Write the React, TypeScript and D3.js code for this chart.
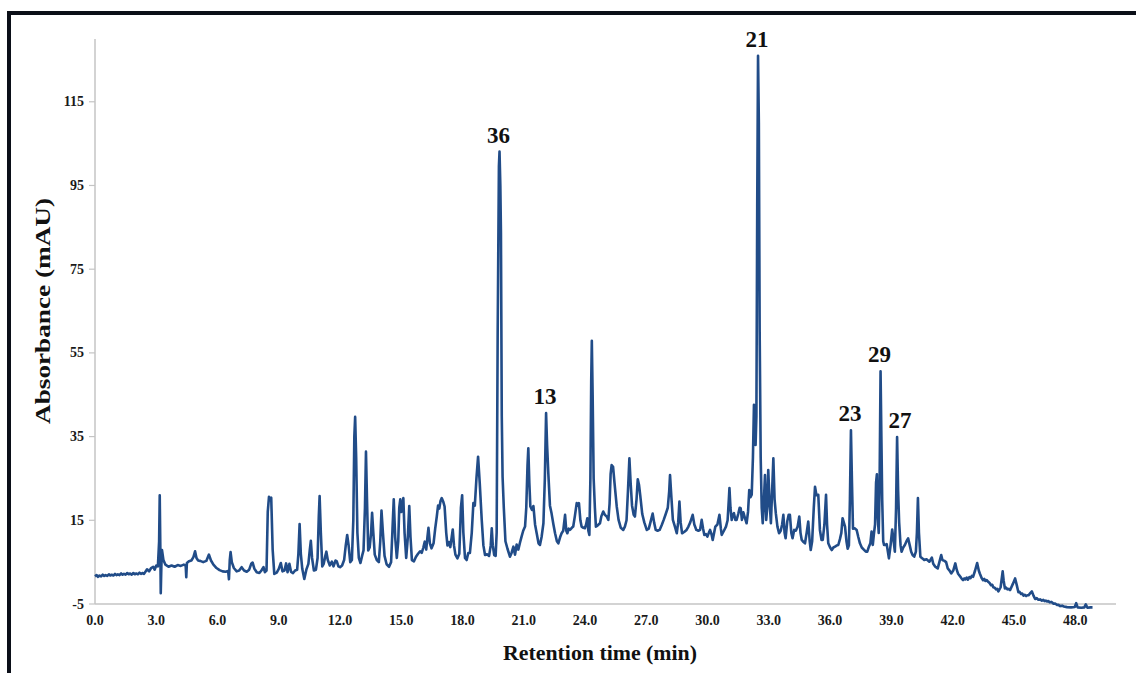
import * as d3 from "d3";
import React, { useRef, useEffect } from "react";

// chromatogram trace: [retention time (min), absorbance (mAU)]
const trace: [number, number][] = [
  [0.0, 1.6], [0.08, 1.9], [0.15, 1.5], [0.22, 1.8], [0.3, 1.6], [0.38, 2.0], [0.45, 1.7],
  [0.52, 1.9], [0.6, 1.7], [0.68, 2.1], [0.75, 1.8], [0.82, 2.0], [0.9, 1.8], [0.98, 2.2],
  [1.05, 1.9], [1.12, 2.1], [1.2, 1.9], [1.28, 2.3], [1.35, 2.0], [1.42, 2.2], [1.5, 2.0],
  [1.58, 2.4], [1.65, 2.1], [1.72, 2.3], [1.8, 2.0], [1.88, 2.4], [1.95, 2.1], [2.02, 2.3],
  [2.1, 2.1], [2.18, 2.5], [2.25, 2.2], [2.32, 2.4], [2.4, 2.2], [2.55, 3.3], [2.65, 2.8],
  [2.75, 3.6], [2.85, 3.9], [2.92, 3.2], [3.0, 4.2], [3.08, 4.0], [3.14, 10], [3.17, 21.0],
  [3.2, 8], [3.22, -2.4], [3.25, 4], [3.28, 7.9], [3.35, 5.5], [3.45, 4.4], [3.6, 3.9],
  [3.75, 4.2], [3.9, 3.9], [4.05, 4.3], [4.2, 4.1], [4.35, 4.4], [4.44, 4.2], [4.47, 1.4],
  [4.5, 4.8], [4.6, 5.2], [4.72, 5.4], [4.82, 6.2], [4.9, 7.6], [4.97, 6.0], [5.05, 5.4],
  [5.15, 5.3], [5.3, 5.0], [5.45, 5.3], [5.58, 6.8], [5.68, 5.4], [5.8, 4.4], [5.95, 3.6],
  [6.1, 3.1], [6.25, 2.8], [6.4, 2.7], [6.52, 2.9], [6.56, 0.9], [6.6, 5.5], [6.64, 7.4],
  [6.7, 5.0], [6.8, 3.6], [6.94, 2.8], [7.06, 3.0], [7.18, 3.8], [7.3, 3.0], [7.43, 2.7],
  [7.55, 3.2], [7.65, 4.6], [7.72, 4.9], [7.8, 3.5], [7.92, 2.6], [8.05, 2.4], [8.15, 3.0],
  [8.25, 3.8], [8.32, 2.6], [8.4, 3.0], [8.46, 17], [8.52, 20.6], [8.58, 19.8], [8.63, 20.4],
  [8.7, 8], [8.78, 2.2], [8.9, 2.5], [9.0, 3.4], [9.1, 4.8], [9.18, 2.8], [9.28, 3.0],
  [9.36, 4.7], [9.43, 2.6], [9.52, 4.6], [9.6, 2.7], [9.7, 2.4], [9.8, 3.0], [9.9, 3.2],
  [9.96, 7], [10.02, 14.1], [10.08, 7], [10.15, 3.4], [10.25, 1.0], [10.35, 3.2],
  [10.45, 4.6], [10.52, 8.0], [10.57, 10.1], [10.63, 6.0], [10.72, 3.0], [10.82, 3.2],
  [10.9, 6], [10.96, 16], [11.0, 20.8], [11.06, 12], [11.13, 4.0], [11.2, 4.6], [11.28, 6.5],
  [11.33, 7.5], [11.4, 5.5], [11.5, 4.2], [11.6, 5.1], [11.68, 4.0], [11.78, 5.4],
  [11.84, 5.2], [11.92, 4.0], [12.0, 3.8], [12.1, 4.2], [12.2, 5.5], [12.28, 9], [12.35, 11.5],
  [12.42, 9], [12.5, 5.0], [12.58, 5.5], [12.65, 15], [12.7, 35], [12.74, 39.7], [12.79, 30],
  [12.85, 12], [12.92, 6], [13.0, 4.8], [13.08, 6.5], [13.15, 7.8], [13.22, 18], [13.27, 31.4],
  [13.32, 20], [13.38, 7.8], [13.45, 8.5], [13.52, 12], [13.57, 16.8], [13.63, 12],
  [13.7, 6.8], [13.8, 5.5], [13.9, 5.0], [13.97, 10], [14.03, 17.3], [14.1, 12], [14.18, 6.5],
  [14.28, 4.5], [14.4, 3.9], [14.5, 5], [14.57, 13], [14.63, 20.0], [14.7, 11], [14.78, 6.0],
  [14.85, 10], [14.9, 18], [14.95, 20.0], [15.0, 17], [15.05, 18.5], [15.1, 20.3], [15.16, 12],
  [15.24, 6.0], [15.32, 11], [15.39, 18.4], [15.45, 11], [15.52, 5.5], [15.62, 5.2],
  [15.72, 6.3], [15.82, 7.0], [15.92, 7.6], [16.0, 7.2], [16.08, 8.5], [16.15, 9.9],
  [16.22, 8.0], [16.28, 11], [16.33, 13.2], [16.4, 9.5], [16.48, 8.3], [16.58, 9.5],
  [16.66, 13], [16.74, 16], [16.8, 18.5], [16.86, 17.8], [16.92, 19.6], [16.98, 20.3],
  [17.05, 19.5], [17.12, 18.3], [17.2, 12], [17.26, 9.0], [17.33, 9.8], [17.4, 8.6],
  [17.47, 11], [17.52, 12.8], [17.58, 9], [17.65, 6.8], [17.75, 5.9], [17.84, 7], [17.92, 18],
  [17.98, 21.0], [18.04, 12], [18.12, 6.0], [18.2, 5.5], [18.28, 7.2], [18.36, 7.2],
  [18.45, 12], [18.53, 19.1], [18.6, 18.5], [18.68, 25], [18.76, 30.2], [18.84, 24],
  [18.94, 15], [19.02, 9], [19.1, 6.7], [19.2, 6.9], [19.3, 6.5], [19.38, 9], [19.43, 13.1],
  [19.48, 9], [19.55, 6.7], [19.62, 6.5], [19.67, 12], [19.72, 60], [19.78, 99.5],
  [19.81, 103.1], [19.85, 95], [19.88, 83.7], [19.92, 40], [19.96, 25.4], [20.02, 18],
  [20.1, 10], [20.2, 8.2], [20.32, 6.3], [20.4, 7.2], [20.49, 8.7], [20.57, 6.8],
  [20.65, 9.2], [20.73, 8.0], [20.82, 9.8], [20.89, 11.1], [20.97, 12.5], [21.06, 13.5],
  [21.12, 18], [21.18, 28], [21.22, 32.2], [21.27, 24], [21.32, 18.3], [21.4, 17.5],
  [21.47, 18.4], [21.55, 14], [21.63, 11.9], [21.72, 9.5], [21.79, 9.1], [21.87, 11],
  [21.96, 14.3], [22.03, 25], [22.09, 40.6], [22.14, 33], [22.2, 26.2], [22.28, 18.5],
  [22.36, 16.6], [22.45, 14], [22.53, 11.9], [22.62, 10], [22.69, 9.5], [22.78, 11],
  [22.85, 11.9], [22.93, 12.5], [23.02, 16.3], [23.08, 12.5], [23.13, 11.9], [23.2, 13],
  [23.26, 12.7], [23.35, 13.2], [23.42, 13.5], [23.5, 16], [23.59, 19.1], [23.65, 18.5],
  [23.7, 19.1], [23.77, 15], [23.83, 13.5], [23.92, 13.2], [23.99, 13.1], [24.05, 14],
  [24.11, 15.5], [24.16, 12.5], [24.21, 11.5], [24.26, 25], [24.3, 48], [24.33, 57.9],
  [24.37, 45], [24.42, 25], [24.48, 18], [24.53, 13.5], [24.62, 13.8], [24.73, 14.3],
  [24.8, 16], [24.89, 17.1], [24.97, 16.3], [25.06, 15.9], [25.14, 15.1], [25.2, 19],
  [25.25, 26], [25.3, 28.2], [25.37, 27.8], [25.44, 24], [25.55, 18.3], [25.64, 15.1],
  [25.75, 13.2], [25.87, 12.7], [25.95, 13.5], [26.03, 15], [26.1, 22], [26.17, 29.8],
  [26.23, 24], [26.3, 18.5], [26.38, 16.3], [26.44, 15.9], [26.52, 20], [26.58, 24.8],
  [26.64, 23.5], [26.7, 21], [26.8, 16.5], [26.9, 14.5], [27.02, 12.7], [27.12, 13],
  [27.2, 14.5], [27.31, 16.6], [27.38, 14.5], [27.46, 12.7], [27.55, 12.5], [27.65, 12.7],
  [27.75, 13.8], [27.85, 15.1], [27.95, 16.5], [28.05, 18], [28.12, 22], [28.16, 25.8],
  [28.22, 21], [28.3, 15.1], [28.4, 13.5], [28.49, 11.9], [28.56, 14.5], [28.62, 19.5],
  [28.68, 14.5], [28.75, 11.9], [28.85, 12.2], [28.97, 12.7], [29.06, 13.5], [29.15, 14.5],
  [29.27, 16.3], [29.35, 14], [29.45, 12.7], [29.55, 12.5], [29.63, 12.7], [29.71, 15.1],
  [29.78, 13], [29.84, 11.5], [29.92, 11.7], [29.99, 11.1], [30.06, 12], [30.12, 12.7],
  [30.2, 11.5], [30.25, 10.3], [30.32, 12], [30.38, 13.5], [30.48, 14], [30.58, 16.3],
  [30.65, 13], [30.69, 11.5], [30.8, 12.5], [30.9, 13.5], [30.98, 15], [31.04, 20],
  [31.07, 22.7], [31.12, 18], [31.18, 15.1], [31.24, 16.3], [31.29, 16.7], [31.36, 15.1],
  [31.42, 15.1], [31.5, 16.5], [31.57, 18.0], [31.62, 17.9], [31.68, 15.1], [31.75, 16.9],
  [31.83, 15.5], [31.91, 14.3], [31.98, 17], [32.04, 22.2], [32.1, 20.5], [32.16, 21.1],
  [32.22, 30], [32.27, 42.6], [32.31, 38], [32.35, 33], [32.39, 40], [32.43, 90],
  [32.47, 126.0], [32.51, 110], [32.55, 60], [32.6, 30], [32.65, 18], [32.7, 14.3],
  [32.76, 20], [32.81, 25.8], [32.87, 15.1], [32.92, 18], [32.97, 27.0], [33.03, 20],
  [33.1, 14.3], [33.16, 22], [33.22, 29.8], [33.28, 20], [33.34, 16.7], [33.42, 13.5],
  [33.5, 11.9], [33.58, 12.5], [33.65, 14], [33.71, 16.3], [33.77, 12], [33.82, 10.7],
  [33.9, 14.7], [33.97, 16.3], [34.03, 16.3], [34.1, 12], [34.16, 10.7], [34.24, 12.7],
  [34.32, 12.5], [34.41, 13.5], [34.49, 15.9], [34.55, 12], [34.61, 10.3], [34.7, 9.8],
  [34.77, 9.5], [34.85, 12], [34.93, 14.7], [35.0, 10], [35.05, 7.9], [35.12, 10],
  [35.2, 18], [35.26, 23.0], [35.33, 21], [35.42, 21.1], [35.5, 12.7], [35.58, 10.3],
  [35.64, 10.3], [35.72, 14], [35.8, 21.1], [35.85, 14], [35.91, 9.5], [36.0, 8.5],
  [36.08, 7.9], [36.16, 8.5], [36.24, 8.7], [36.32, 9.0], [36.4, 9.1], [36.48, 10.5],
  [36.55, 12], [36.61, 15.5], [36.67, 14.5], [36.73, 13.5], [36.8, 10], [36.86, 8.2],
  [36.92, 9], [36.97, 20], [37.02, 36.5], [37.07, 24], [37.12, 13], [37.2, 13.1],
  [37.3, 12.7], [37.38, 11], [37.46, 9.5], [37.55, 8.5], [37.65, 8.0], [37.75, 7.5],
  [37.82, 7.5], [37.9, 8.7], [37.97, 9.5], [38.03, 12.3], [38.09, 9.1], [38.14, 11.5],
  [38.2, 14], [38.25, 24], [38.29, 26], [38.33, 16], [38.38, 12], [38.42, 22],
  [38.47, 50.6], [38.51, 35], [38.55, 20], [38.6, 10], [38.64, 9.1], [38.7, 9.1],
  [38.77, 9.3], [38.88, 5.9], [38.96, 9], [39.04, 12.8], [39.1, 10.5], [39.17, 7.5],
  [39.23, 18], [39.28, 34.9], [39.33, 22], [39.38, 14.5], [39.45, 9], [39.5, 7.5],
  [39.58, 8.5], [39.66, 9.1], [39.74, 10], [39.82, 10.7], [39.9, 9], [39.97, 7.5],
  [40.04, 6.7], [40.12, 6.3], [40.2, 7.5], [40.25, 12], [40.3, 20.3], [40.35, 12],
  [40.42, 6.3], [40.52, 5.9], [40.61, 5.5], [40.72, 5.7], [40.86, 5.1], [40.98, 6.1],
  [41.05, 4.6], [41.15, 3.9], [41.27, 3.5], [41.35, 5.0], [41.44, 6.7], [41.5, 5.5],
  [41.6, 5.3], [41.68, 5.0], [41.76, 3.5], [41.85, 3.0], [41.93, 2.3], [42.03, 3.0],
  [42.13, 4.7], [42.2, 3.2], [42.26, 2.3], [42.38, 1.5], [42.45, 1.0], [42.51, 0.7],
  [42.57, 1.1], [42.63, 0.9], [42.69, 1.3], [42.75, 0.8], [42.82, 1.4], [42.88, 1.2],
  [42.94, 1.7], [43.0, 1.5], [43.1, 3.0], [43.2, 4.8], [43.28, 3.0], [43.33, 2.3],
  [43.42, 1.2], [43.49, 0.7], [43.55, 1.0], [43.6, 0.5], [43.67, 0.7], [43.74, 0.3],
  [43.81, 0.0], [43.88, -0.5], [43.94, -0.4], [43.99, -1.0], [44.06, -1.1], [44.12, -1.5],
  [44.18, -1.4], [44.24, -2.0], [44.35, -1.0], [44.45, 2.8], [44.5, 0.5], [44.56, -1.3],
  [44.62, -1.1], [44.68, -1.5], [44.75, -1.4], [44.81, -1.7], [44.95, -0.2], [45.06, 1.1],
  [45.14, -0.5], [45.22, -2.2], [45.28, -2.1], [45.35, -2.6], [45.41, -2.5], [45.47, -3.0],
  [45.53, -2.8], [45.6, -3.1], [45.66, -2.9], [45.72, -2.9], [45.8, -2.4], [45.88, -2.0],
  [45.96, -3.0], [46.04, -3.8], [46.12, -3.6], [46.2, -4.0], [46.28, -3.9], [46.37, -4.2],
  [46.44, -4.0], [46.5, -4.3], [46.56, -4.2], [46.62, -4.4], [46.68, -4.3], [46.75, -4.6],
  [46.84, -4.5], [46.93, -4.9], [47.02, -4.9], [47.1, -5.2], [47.18, -5.2], [47.27, -5.5],
  [47.36, -5.4], [47.45, -5.6], [47.6, -5.75], [47.8, -5.8], [47.98, -5.7], [48.05, -4.8],
  [48.12, -5.8], [48.3, -5.9], [48.45, -5.8], [48.52, -5.1], [48.6, -5.9], [48.75, -5.8],
  [48.85, -5.8],
];

const xTicks = [0, 3, 6, 9, 12, 15, 18, 21, 24, 27, 30, 33, 36, 39, 42, 45, 48];
const yTicks = [-5, 15, 35, 55, 75, 95, 115];

// labelled peaks
const peakNames = ["36", "13", "21", "23", "29", "27"];
const peakTimes = [19.81, 22.09, 32.47, 37.02, 38.47, 39.28];
const peakHeights = [103.1, 40.6, 126.0, 36.5, 50.6, 34.9];

const W = 1136;
const H = 673;
const FONT = "'Liberation Serif', 'Times New Roman', serif";

const drawChart = (svgEl: SVGSVGElement) => {
  const svg = d3.select(svgEl);
  svg.selectAll("*").remove();

  const x = d3.scaleLinear().domain([0, 50]).range([95, 1116]);
  const y = d3.scaleLinear().domain([-5, 130]).range([604, 39]);

  // frame (top + left edges only)
  svg
    .append("path")
    .attr("d", `M9,${H} L9,13 L${W},13`)
    .style("fill", "none")
    .style("stroke", "#0b0f18")
    .style("stroke-width", 4);

  const axisColor = "#c4c4c4";

  // y axis
  svg
    .append("line")
    .attr("x1", x(0))
    .attr("x2", x(0))
    .attr("y1", y(130))
    .attr("y2", y(-5))
    .style("stroke", axisColor)
    .style("stroke-width", 1.5);

  svg
    .append("g")
    .selectAll("line")
    .data(yTicks)
    .join("line")
    .attr("x1", x(0) - 6)
    .attr("x2", x(0))
    .attr("y1", (d) => y(d))
    .attr("y2", (d) => y(d))
    .style("stroke", axisColor)
    .style("stroke-width", 1.2);

  svg
    .append("g")
    .selectAll("text")
    .data(yTicks)
    .join("text")
    .attr("x", x(0) - 11)
    .attr("y", (d) => y(d) + 4.5)
    .style("text-anchor", "end")
    .style("font-family", FONT)
    .style("font-weight", "bold")
    .style("font-size", "14px")
    .style("fill", "#1a1a1a")
    .text((d) => d);

  // x axis
  svg
    .append("line")
    .attr("x1", x(0))
    .attr("x2", x(50))
    .attr("y1", y(-5))
    .attr("y2", y(-5))
    .style("stroke", axisColor)
    .style("stroke-width", 1.5);

  svg
    .append("g")
    .selectAll("text")
    .data(xTicks)
    .join("text")
    .attr("x", (d) => x(d))
    .attr("y", y(-5) + 21)
    .style("text-anchor", "middle")
    .style("font-family", FONT)
    .style("font-weight", "bold")
    .style("font-size", "14px")
    .style("fill", "#1a1a1a")
    .text((d) => d.toFixed(1));

  // axis titles
  svg
    .append("text")
    .attr("transform", "translate(50,311) rotate(-90)")
    .attr("textLength", 226)
    .attr("lengthAdjust", "spacingAndGlyphs")
    .style("text-anchor", "middle")
    .style("font-family", FONT)
    .style("font-weight", "bold")
    .style("font-size", "22px")
    .style("fill", "#111")
    .text("Absorbance (mAU)");

  svg
    .append("text")
    .attr("x", 600)
    .attr("y", 660)
    .attr("textLength", 194)
    .attr("lengthAdjust", "spacingAndGlyphs")
    .style("text-anchor", "middle")
    .style("font-family", FONT)
    .style("font-weight", "bold")
    .style("font-size", "22px")
    .style("fill", "#111")
    .text("Retention time (min)");

  // trace
  const line = d3
    .line<[number, number]>()
    .x((d) => x(d[0]))
    .y((d) => y(d[1]));

  svg
    .append("path")
    .datum(trace)
    .attr("d", line)
    .style("fill", "none")
    .style("stroke", "#214c88")
    .style("stroke-width", 2.6)
    .style("stroke-linejoin", "round");

  // peak labels
  svg
    .append("g")
    .selectAll("text")
    .data(peakNames)
    .join("text")
    .attr("x", (d, i) => x(peakTimes[i]) + (d === "27" ? 4 : 0) - 1)
    .attr("y", (d, i) => y(peakHeights[i]) - 9)
    .style("text-anchor", "middle")
    .style("font-family", FONT)
    .style("font-weight", "bold")
    .style("font-size", "23px")
    .style("fill", "#111")
    .text((d) => d);
};

const App = () => {
  const svgRef = useRef<SVGSVGElement>(null);

  useEffect(() => {
    if (svgRef.current) drawChart(svgRef.current);
  }, []);

  return (
    <svg
      ref={svgRef}
      width={W}
      height={H}
      style={{ position: "absolute", left: 0, top: 0, background: "#fff" }}
    />
  );
};

export default App;
